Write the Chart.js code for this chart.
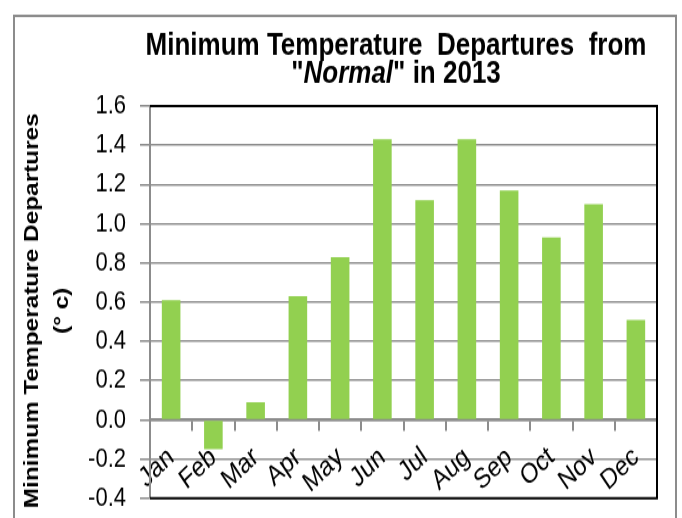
<!DOCTYPE html>
<html lang="en">
<head>
    <meta charset="utf-8" />
    <title>Minimum Temperature Departures</title>
    <script src="https://cdn.jsdelivr.net/npm/chart.js"></script>
    <style>
        html, body { margin: 0; padding: 0; background: #fff; }
        #pagina { width: 682px; height: 518px; overflow: hidden; }
        /* a figura original esta esticada na vertical, entao estico o canvas tambem
           (o canvas passa um pouco do fundo, o resto fica cortado) */
        #wrap { position: relative; width: 682px; height: 436px; transform: scaleY(1.21882); transform-origin: 0 0; }
    </style>
</head>
<body>
    <div id="pagina"><div id="wrap"><canvas id="grafico"></canvas></div></div>

    <script>
        // dados
        const meses = ['Jan', 'Feb', 'Mar', 'Apr', 'May', 'Jun', 'Jul', 'Aug', 'Sep', 'Oct', 'Nov', 'Dec'];
        const desvios = [0.61, -0.15, 0.09, 0.63, 0.83, 1.43, 1.12, 1.43, 1.17, 0.93, 1.10, 0.51];
        const yMin = -0.4;
        const yMax = 1.6;
        const yPasso = 0.2;

        const tituloLinha1 = 'Minimum Temperature  Departures  from';
        const tituloLinha2 = ['"', 'Normal', '" in 2013'];
        const tituloEixoY = ['Minimum Temperature Departures', '(° c)'];

        const fonte = '"Liberation Sans", Arial, sans-serif';

        // moldura, titulo e titulo do eixo y desenhados a mao
        const extras = {
            id: 'extras',
            beforeDraw(chart) {
                const ctx = chart.ctx;
                ctx.save();
                ctx.strokeStyle = '#8c8c8c';
                ctx.lineWidth = 2;
                ctx.strokeRect(14, 13, 662, 440);
                ctx.restore();
            },
            afterDraw(chart) {
                const ctx = chart.ctx;
                const a = chart.chartArea;
                ctx.save();

                // borda preta da area do grafico
                ctx.strokeStyle = '#000';
                ctx.lineWidth = 2;
                ctx.beginPath();
                ctx.moveTo(a.left, a.top);
                ctx.lineTo(a.right, a.top);
                ctx.lineTo(a.right, a.bottom);
                ctx.lineTo(a.left, a.bottom);
                ctx.stroke();

                // titulo
                ctx.fillStyle = '#000';
                ctx.textBaseline = 'alphabetic';
                ctx.textAlign = 'center';
                ctx.font = 'bold 26px ' + fonte;
                const cx = 396;
                ctx.fillText(tituloLinha1, cx, 45);

                const fontes = ['bold 26px ' + fonte, 'italic bold 26px ' + fonte, 'bold 26px ' + fonte];
                let larg = 0;
                const w = tituloLinha2.map((t, i) => {
                    ctx.font = fontes[i];
                    const m = ctx.measureText(t).width;
                    larg += m;
                    return m;
                });
                let x = cx - larg / 2;
                ctx.textAlign = 'left';
                tituloLinha2.forEach((t, i) => {
                    ctx.font = fontes[i];
                    ctx.fillText(t, x, 68);
                    x += w[i];
                });

                // titulo do eixo y
                ctx.textAlign = 'center';
                ctx.textBaseline = 'middle';
                ctx.font = 'bold 20px ' + fonte;
                ctx.translate(32, 255);
                ctx.rotate(-Math.PI / 2);
                ctx.fillText(tituloEixoY[0], 0, 0);
                ctx.fillText(tituloEixoY[1], 0, 30);
                ctx.restore();
            }
        };

        const ctx = document.getElementById('grafico').getContext('2d');
        window.currentChart = new Chart(ctx, {
            type: 'bar',
            data: {
                labels: meses,
                datasets: [{
                    data: desvios,
                    backgroundColor: '#92d050',
                    borderWidth: 0,
                    barPercentage: 0.44,
                    categoryPercentage: 1
                }]
            },
            options: {
                responsive: true,
                maintainAspectRatio: false,
                animation: false,
                devicePixelRatio: 1,
                layout: { padding: { top: 87, right: 25, bottom: 5.8, left: 0 } },
                plugins: {
                    legend: { display: false },
                    title: { display: false },
                    tooltip: { enabled: false }
                },
                scales: {
                    x: {
                        position: { y: 0 },
                        offset: true,
                        grid: {
                            offset: true,
                            drawOnChartArea: false,
                            drawTicks: true,
                            tickLength: 8,
                            color: '#8c8c8c',
                            lineWidth: 2
                        },
                        border: { color: '#8c8c8c', width: 2.5 },
                        ticks: {
                            color: '#000',
                            font: { family: fonte, size: 23 },
                            minRotation: 39,
                            maxRotation: 39,
                            padding: 9,
                            autoSkip: false
                        }
                    },
                    y: {
                        min: yMin,
                        max: yMax,
                        afterFit(scale) { scale.width = 150; },
                        grid: {
                            color: '#8c8c8c',
                            lineWidth: 1.6,
                            tickLength: 10
                        },
                        border: { color: '#8c8c8c', width: 2 },
                        ticks: {
                            stepSize: yPasso,
                            color: '#000',
                            font: { family: fonte, size: 22 },
                            padding: 14,
                            callback: (v) => v.toFixed(1)
                        }
                    }
                }
            },
            plugins: [extras]
        });
    </script>
</body>
</html>
